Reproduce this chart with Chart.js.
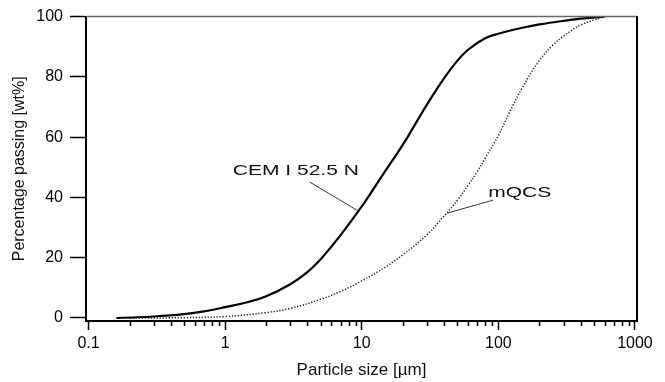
<!DOCTYPE html>
<html>
<head>
<meta charset="utf-8">
<script src="https://cdn.jsdelivr.net/npm/chart.js@4.4.1/dist/chart.umd.min.js"></script>
<style>
  html, body { margin: 0; padding: 0; background: #fff; }
  #wrap { width: 665px; height: 382px; }
</style>
</head>
<body>
<div id="wrap"><canvas id="canvas"></canvas></div>
<script>
// particle size distribution
var cemSize = [0.16, 0.2, 0.3, 0.5, 0.7, 1, 1.5, 2, 3, 4, 5, 7, 10, 14, 20, 25, 30, 40, 50, 60, 80, 100, 150, 200, 300, 400, 600];
var cemPass = [0, 0.15, 0.5, 1.3, 2.2, 3.6, 5.4, 7.2, 11.2, 15.2, 19.5, 27.5, 37, 47, 57.5, 64.8, 70.8, 79.5, 85.3, 89, 92.8, 94.3, 96.3, 97.4, 98.6, 99.3, 100];

var qcsSize = [0.2, 0.5, 1, 2, 3, 5, 7, 10, 15, 20, 30, 40, 50, 60, 70, 80, 100, 120, 150, 200, 250, 300, 400, 600];
var qcsPass = [0, 0.1, 0.5, 1.8, 3.2, 6.2, 8.8, 12.3, 17, 21, 27.6, 33.8, 39, 44, 48.5, 53, 60.5, 68, 76.5, 85.5, 90.5, 93.5, 97.2, 100];

var xTicks = [0.1, 1, 10, 100, 1000];
var xTickLabels = ['0.1', '1', '10', '100', '1000'];
var yTicks = [0, 20, 40, 60, 80, 100];

// labels with leader lines, in data units
var notes = [
    { text: 'CEM I 52.5 N', tx: 3.29, ty: 48.7, x1: 4.16, y1: 45.1, x2: 9.35, y2: 35.6 },
    { text: 'mQCS', tx: 143.5, ty: 41.6, x1: 91.6, y1: 39.1, x2: 42.2, y2: 34.8 }
];

function toPoints(xs, ys) {
    return xs.map(function(x, i) { return { x: x, y: ys[i] }; });
}

var extras = {
    id: 'extras',
    afterDraw: function(chart) {
        var ctx = chart.ctx;
        var a = chart.chartArea;
        var xs = chart.scales.x;
        var ys = chart.scales.y;
        ctx.save();
        // frame top + right
        ctx.strokeStyle = '#666';
        ctx.lineWidth = 1.5;
        ctx.beginPath();
        ctx.moveTo(a.left, a.top);
        ctx.lineTo(a.right, a.top);
        ctx.stroke();
        ctx.strokeStyle = '#000';
        ctx.lineWidth = 2;
        ctx.beginPath();
        ctx.moveTo(a.right, a.top - 0.5);
        ctx.lineTo(a.right, a.bottom);
        ctx.stroke();
        // minor ticks on the log axis
        ctx.lineWidth = 1.5;
        ctx.beginPath();
        for (var d = 0; d < xTicks.length - 1; d++) {
            for (var m = 2; m <= 9; m++) {
                var px = Math.round(xs.getPixelForValue(xTicks[d] * m)) + 0.5;
                ctx.moveTo(px, a.bottom);
                ctx.lineTo(px, a.bottom + 5);
            }
        }
        ctx.stroke();
        // annotations
        ctx.strokeStyle = '#333';
        ctx.lineWidth = 1;
        ctx.fillStyle = '#111';
        ctx.font = '15px "Liberation Sans", Arial, sans-serif';
        ctx.textAlign = 'center';
        ctx.textBaseline = 'middle';
        notes.forEach(function(n) {
            ctx.beginPath();
            ctx.moveTo(xs.getPixelForValue(n.x1), ys.getPixelForValue(n.y1));
            ctx.lineTo(xs.getPixelForValue(n.x2), ys.getPixelForValue(n.y2));
            ctx.stroke();
            var tx = xs.getPixelForValue(n.tx);
            var ty = ys.getPixelForValue(n.ty);
            ctx.save();
            ctx.translate(tx, ty);
            ctx.scale(1.4, 1);
            ctx.fillText(n.text, 0, 0);
            ctx.restore();
        });
        ctx.restore();
    }
};

var ctx = document.getElementById('canvas').getContext('2d');
var myChart = new Chart(ctx, {
    type: 'line',
    data: {
        datasets: [{
            label: 'CEM I 52.5 N',
            data: toPoints(cemSize, cemPass),
            borderColor: '#000',
            borderWidth: 2.2,
            pointRadius: 0,
            tension: 0.4
        },
        {
            label: 'mQCS',
            data: toPoints(qcsSize, qcsPass),
            borderColor: '#222',
            borderWidth: 1.5,
            borderDash: [1.3, 1.7],
            pointRadius: 0,
            tension: 0.4
        }]
    },
    options: {
        responsive: true,
        maintainAspectRatio: false,
        animation: false,
        layout: { padding: { top: 14, right: 28, left: 0, bottom: 0 } },
        plugins: {
            legend: { display: false },
            tooltip: { enabled: false }
        },
        scales: {
            x: {
                type: 'logarithmic',
                min: 0.0958,
                max: 1035,
                afterBuildTicks: function(scale) {
                    scale.ticks = xTicks.map(function(v) { return { value: v, major: true }; });
                },
                afterFit: function(scale) { scale.height = 61; },
                ticks: {
                    autoSkip: false,
                    maxRotation: 0,
                    padding: 4,
                    color: '#000',
                    font: { family: '"Liberation Sans", Arial, sans-serif', size: 16 },
                    callback: function(v, i) { return xTickLabels[i]; }
                },
                grid: {
                    drawOnChartArea: false,
                    tickLength: 9,
                    tickColor: '#000',
                    tickWidth: 1.5
                },
                border: { color: '#000', width: 2 },
                title: {
                    display: true,
                    text: 'Particle size [µm]',
                    color: '#111',
                    font: { family: '"Liberation Sans", Arial, sans-serif', size: 17 },
                    padding: { top: 0, bottom: 1 }
                }
            },
            y: {
                min: -1,
                max: 100,
                afterBuildTicks: function(scale) {
                    scale.ticks = yTicks.map(function(v) { return { value: v }; });
                },
                afterFit: function(scale) { scale.width = 86; },
                ticks: {
                    padding: 7,
                    color: '#000',
                    font: { family: '"Liberation Sans", Arial, sans-serif', size: 16 }
                },
                grid: {
                    drawOnChartArea: false,
                    tickLength: 16,
                    tickColor: '#000',
                    tickWidth: 1.5
                },
                border: { color: '#000', width: 2 },
                title: {
                    display: true,
                    text: 'Percentage passing [wt%]',
                    color: '#111',
                    font: { family: '"Liberation Sans", Arial, sans-serif', size: 16 },
                    padding: { top: 10, bottom: 0 }
                }
            }
        }
    },
    plugins: [extras]
});
</script>
</body>
</html>
